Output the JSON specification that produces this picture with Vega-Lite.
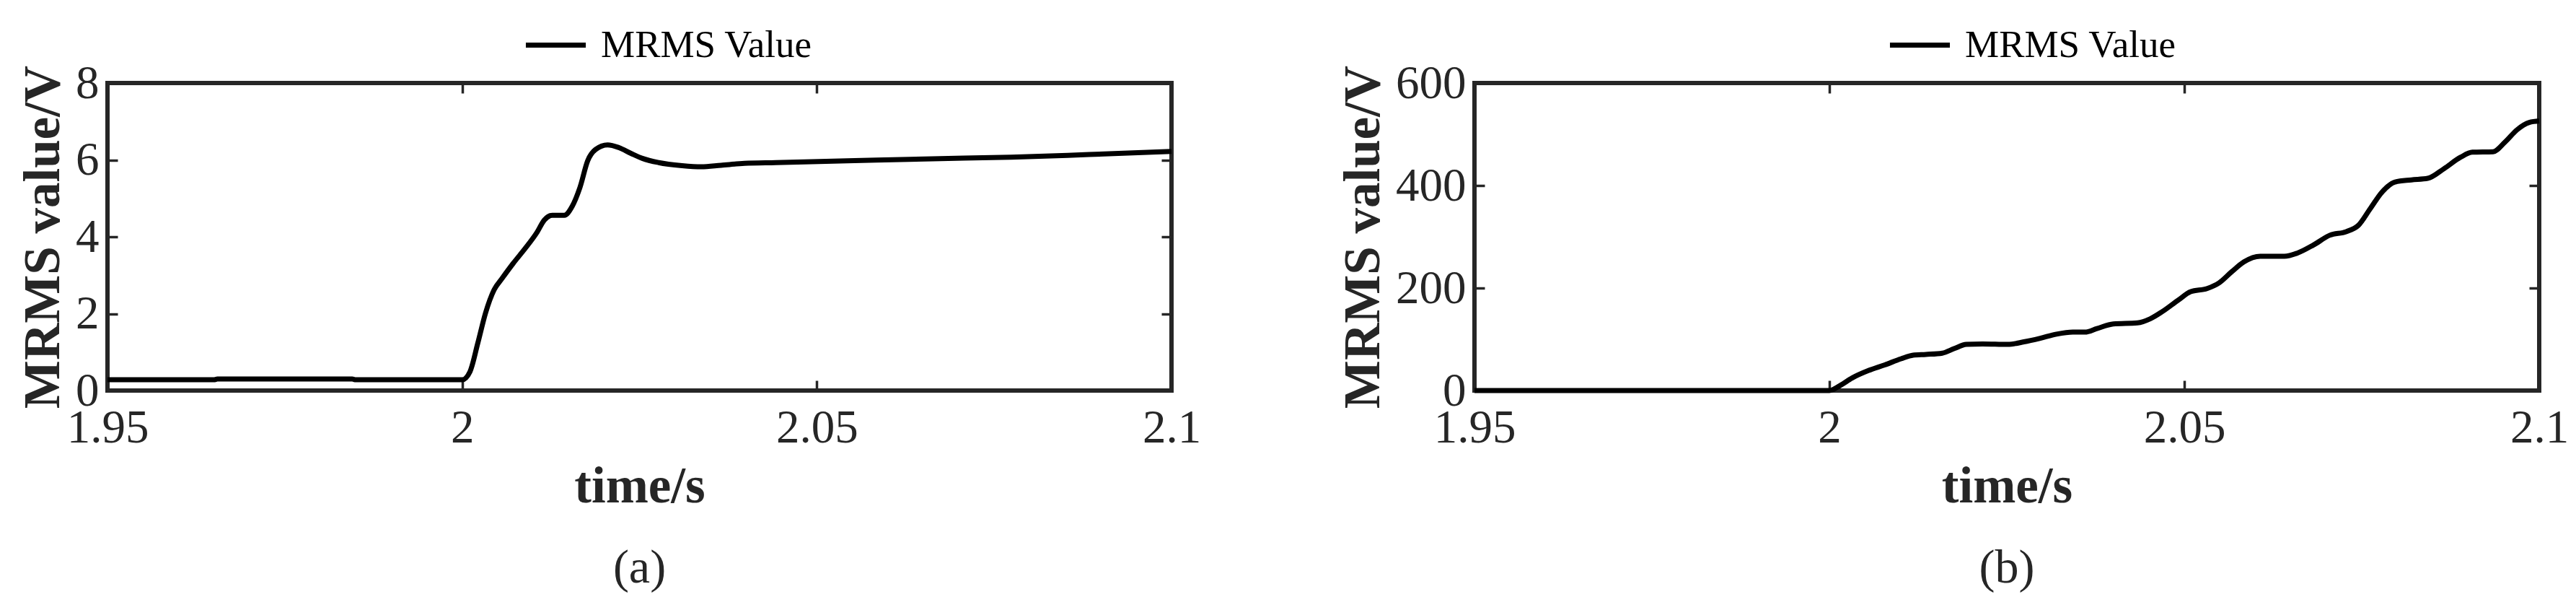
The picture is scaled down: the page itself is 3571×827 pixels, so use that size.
{
  "$schema": "https://vega.github.io/schema/vega-lite/v6.json",
  "background": "white",
  "padding": {"left": 21, "top": 14, "right": 0, "bottom": 0},
  "config": {
    "font": "Liberation Serif",
    "view": {"stroke": "#262626", "strokeWidth": 6},
    "axis": {
      "domain": false, "grid": false, "labelFlush": false,
      "tickSize": -14, "tickWidth": 3.5, "tickColor": "#262626",
      "labelFont": "Liberation Serif", "labelFontSize": 65, "labelColor": "#262626",
      "titleFont": "Liberation Serif", "titleFontSize": 71, "titleFontWeight": "bold", "titleColor": "#262626"
    },
    "title": {"font": "Liberation Serif", "fontSize": 66, "fontWeight": "normal", "color": "#262626"}
  },
  "datasets": {
    "a": [
      {"t": 1.95, "v": 0.28}, {"t": 1.965, "v": 0.28}, {"t": 1.9655, "v": 0.30}, {"t": 1.9845, "v": 0.30}, {"t": 1.985, "v": 0.28},
      {"t": 2.0, "v": 0.28}, {"t": 2.0011, "v": 0.49}, {"t": 2.0022, "v": 1.23}, {"t": 2.0033, "v": 2.02},
      {"t": 2.0045, "v": 2.62}, {"t": 2.0056, "v": 2.91}, {"t": 2.0072, "v": 3.31}, {"t": 2.0089, "v": 3.70},
      {"t": 2.0105, "v": 4.10}, {"t": 2.0116, "v": 4.44}, {"t": 2.0127, "v": 4.56}, {"t": 2.0144, "v": 4.56},
      {"t": 2.0155, "v": 4.79}, {"t": 2.0166, "v": 5.28}, {"t": 2.0177, "v": 5.98}, {"t": 2.0188, "v": 6.27},
      {"t": 2.0205, "v": 6.39}, {"t": 2.0221, "v": 6.32}, {"t": 2.0238, "v": 6.17}, {"t": 2.0254, "v": 6.04},
      {"t": 2.0277, "v": 5.93}, {"t": 2.031, "v": 5.85}, {"t": 2.0337, "v": 5.82}, {"t": 2.0365, "v": 5.86},
      {"t": 2.0398, "v": 5.91}, {"t": 2.0442, "v": 5.93}, {"t": 2.0553, "v": 5.98}, {"t": 2.0663, "v": 6.03},
      {"t": 2.0774, "v": 6.07}, {"t": 2.0884, "v": 6.14}, {"t": 2.1, "v": 6.22}
    ],
    "b": [
      {"t": 1.95, "v": 0}, {"t": 2.0, "v": 0}, {"t": 2.0015, "v": 9.7}, {"t": 2.0032, "v": 24.5}, {"t": 2.0055, "v": 39},
      {"t": 2.0078, "v": 50}, {"t": 2.0101, "v": 62}, {"t": 2.0118, "v": 69}, {"t": 2.0136, "v": 70.5},
      {"t": 2.0159, "v": 73}, {"t": 2.0176, "v": 82}, {"t": 2.0193, "v": 90}, {"t": 2.0216, "v": 91},
      {"t": 2.0251, "v": 90}, {"t": 2.0274, "v": 95}, {"t": 2.0297, "v": 102}, {"t": 2.032, "v": 110},
      {"t": 2.0343, "v": 114}, {"t": 2.036, "v": 114}, {"t": 2.0377, "v": 121}, {"t": 2.04, "v": 130},
      {"t": 2.0434, "v": 132}, {"t": 2.0452, "v": 140}, {"t": 2.0469, "v": 154}, {"t": 2.0492, "v": 177},
      {"t": 2.0509, "v": 193}, {"t": 2.0532, "v": 199}, {"t": 2.0549, "v": 210}, {"t": 2.0567, "v": 232},
      {"t": 2.0584, "v": 251}, {"t": 2.0607, "v": 262}, {"t": 2.0641, "v": 262}, {"t": 2.0659, "v": 268},
      {"t": 2.0682, "v": 284}, {"t": 2.0705, "v": 303}, {"t": 2.0728, "v": 310}, {"t": 2.0745, "v": 322},
      {"t": 2.0762, "v": 355}, {"t": 2.0779, "v": 388}, {"t": 2.0797, "v": 407}, {"t": 2.082, "v": 411},
      {"t": 2.0843, "v": 414}, {"t": 2.0866, "v": 433}, {"t": 2.0889, "v": 455}, {"t": 2.0906, "v": 465},
      {"t": 2.0935, "v": 466}, {"t": 2.0952, "v": 485}, {"t": 2.0969, "v": 509}, {"t": 2.0986, "v": 523},
      {"t": 2.1, "v": 526}
    ]
  },
  "spacing": 183,
  "resolve": {"scale": {"color": "independent"}},
  "hconcat": [
    {
      "width": 1475, "height": 426,
      "title": {"text": "(a)", "orient": "bottom", "offset": 46},
      "data": {"name": "a"},
      "resolve": {"axis": {"x": "independent", "y": "independent"}},
      "layer": [
        {
          "mark": {"type": "line", "strokeWidth": 7, "interpolate": "monotone"},
          "encoding": {
            "x": {"field": "t", "type": "quantitative", "scale": {"domain": [1.95, 2.1], "nice": false},
                  "axis": {"orient": "bottom", "values": [1.95, 2, 2.05, 2.1], "format": "~g", "title": "time/s", "labelPadding": 34, "titlePadding": 14}},
            "y": {"field": "v", "type": "quantitative", "scale": {"domain": [0, 8], "nice": false},
                  "axis": {"orient": "left", "values": [0, 2, 4, 6, 8], "title": "MRMS value/V", "labelPadding": 26, "titlePadding": 8}},
            "color": {"datum": "MRMS Value", "type": "nominal", "scale": {"range": ["black"]},
                      "legend": {"orient": "none", "legendX": 576, "legendY": -98, "title": null, "symbolType": "stroke", "symbolSize": 6900, "symbolStrokeWidth": 7, "labelFont": "Liberation Serif", "labelFontSize": 53, "labelColor": "black", "labelLimit": 0, "padding": 0, "labelOffset": 17}}
          }
        },
        {
          "mark": {"type": "line", "opacity": 0},
          "encoding": {
            "x": {"field": "t", "type": "quantitative", "scale": {"domain": [1.95, 2.1], "nice": false},
                  "axis": {"orient": "top", "values": [1.95, 2, 2.05, 2.1], "labels": false, "title": null}},
            "y": {"field": "v", "type": "quantitative", "scale": {"domain": [0, 8], "nice": false},
                  "axis": {"orient": "right", "values": [0, 2, 4, 6, 8], "labels": false, "title": null}}
          }
        }
      ]
    },
    {
      "width": 1476, "height": 426,
      "title": {"text": "(b)", "orient": "bottom", "offset": 46},
      "data": {"name": "b"},
      "resolve": {"axis": {"x": "independent", "y": "independent"}},
      "layer": [
        {
          "mark": {"type": "line", "strokeWidth": 7, "interpolate": "monotone"},
          "encoding": {
            "x": {"field": "t", "type": "quantitative", "scale": {"domain": [1.95, 2.1], "nice": false},
                  "axis": {"orient": "bottom", "values": [1.95, 2, 2.05, 2.1], "format": "~g", "title": "time/s", "labelPadding": 34, "titlePadding": 14}},
            "y": {"field": "v", "type": "quantitative", "scale": {"domain": [0, 600], "nice": false},
                  "axis": {"orient": "left", "values": [0, 200, 400, 600], "title": "MRMS value/V", "labelPadding": 26, "titlePadding": 8}},
            "color": {"datum": "MRMS Value", "type": "nominal", "scale": {"range": ["black"]},
                      "legend": {"orient": "none", "legendX": 572, "legendY": -98, "title": null, "symbolType": "stroke", "symbolSize": 6900, "symbolStrokeWidth": 7, "labelFont": "Liberation Serif", "labelFontSize": 53, "labelColor": "black", "labelLimit": 0, "padding": 0, "labelOffset": 17}}
          }
        },
        {
          "mark": {"type": "line", "opacity": 0},
          "encoding": {
            "x": {"field": "t", "type": "quantitative", "scale": {"domain": [1.95, 2.1], "nice": false},
                  "axis": {"orient": "top", "values": [1.95, 2, 2.05, 2.1], "labels": false, "title": null}},
            "y": {"field": "v", "type": "quantitative", "scale": {"domain": [0, 600], "nice": false},
                  "axis": {"orient": "right", "values": [0, 200, 400, 600], "labels": false, "title": null}}
          }
        }
      ]
    }
  ]
}
